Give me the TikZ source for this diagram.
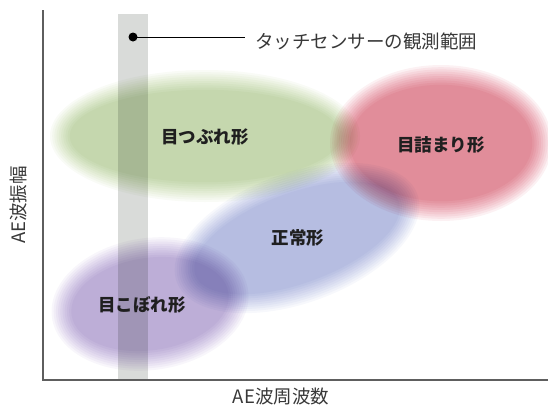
\documentclass[tikz,border=0pt]{standalone}
\usepackage{fontspec}
\setmainfont{Noto Sans CJK JP}
\definecolor{cband}{HTML}{D9DBD9}
\definecolor{caxis}{HTML}{5E5E5E}
% #1,#2 centre, #3,#4 radii, #5 rotation, #6 r,g,b (0..1)
\newcommand\softblob[6]{%
  \begin{scope}[blend mode=multiply]
    \foreach \cr/\cg/\cb in {#6}{%
      \pgfmathsetmacro\rr{min(1,\cr^(1/10)+0.0025)}%
      \pgfmathsetmacro\gg{min(1,\cg^(1/10)+0.0025)}%
      \pgfmathsetmacro\bb{min(1,\cb^(1/10)+0.0025)}%
      \definecolor{layercol}{rgb}{\rr,\gg,\bb}%
      \foreach \k in {1,...,10}{%
        \pgfmathsetmacro\dd{10-(\k-1)*2.2}%
        \fill[layercol, rotate around={#5:(#1,#2)}]
          (#1,#2) ellipse [x radius=#3+\dd, y radius=#4+\dd];
      }
    }
  \end{scope}}
\begin{document}
\begin{tikzpicture}[x=1pt,y=-1pt,
  lbl/.style={font=\fontsize{17.5}{17.5}\selectfont\bfseries, text=black!88},
  axlbl/.style={font=\fontsize{18.5}{18.5}\selectfont, text=black!78}]
\useasboundingbox (0,0) rectangle (548,408);
% blobs
\softblob{205}{136}{145}{56}{0}{0.7725/0.8314/0.6784}
\softblob{441}{143}{101}{68}{0}{0.8667/0.5608/0.5961}
\softblob{297}{238}{118}{55}{20}{0.698/0.749/0.8784}
\softblob{150}{304}{89}{56}{8}{0.7373/0.6824/0.8431}
% band
\fill[cband, blend mode=multiply] (118,14) rectangle (148,380);
% axes
\coordinate (ytop) at (43,10);
\coordinate (orig) at (43,380);
\coordinate (xend) at (548,380);
\draw[caxis, line width=1.4pt] (ytop) -- (orig) -- (xend);
% labels
\node[lbl] (l1) at (205,137) {目つぶれ形};
\node[lbl] (l2) at (441,145) {目詰まり形};
\node[lbl] (l3) at (298,238) {正常形};
\node[lbl] (l4) at (142,305) {目こぼれ形};
\node[axlbl] (xl) at (281,397) {AE波周波数};
\node[axlbl, rotate=90] (yl) at (18,205) {AE波振幅};
% sensor
\node[circle, fill=black, inner sep=0pt, minimum size=9pt] (dot) at (133,37) {};
\node[axlbl, anchor=west, inner sep=0pt] (sensor) at (255,41) {タッチセンサーの観測範囲};
\coordinate (lend) at (245,37);
\draw[line width=0.9pt] (dot.center) -- (lend);
\end{tikzpicture}
\end{document}
